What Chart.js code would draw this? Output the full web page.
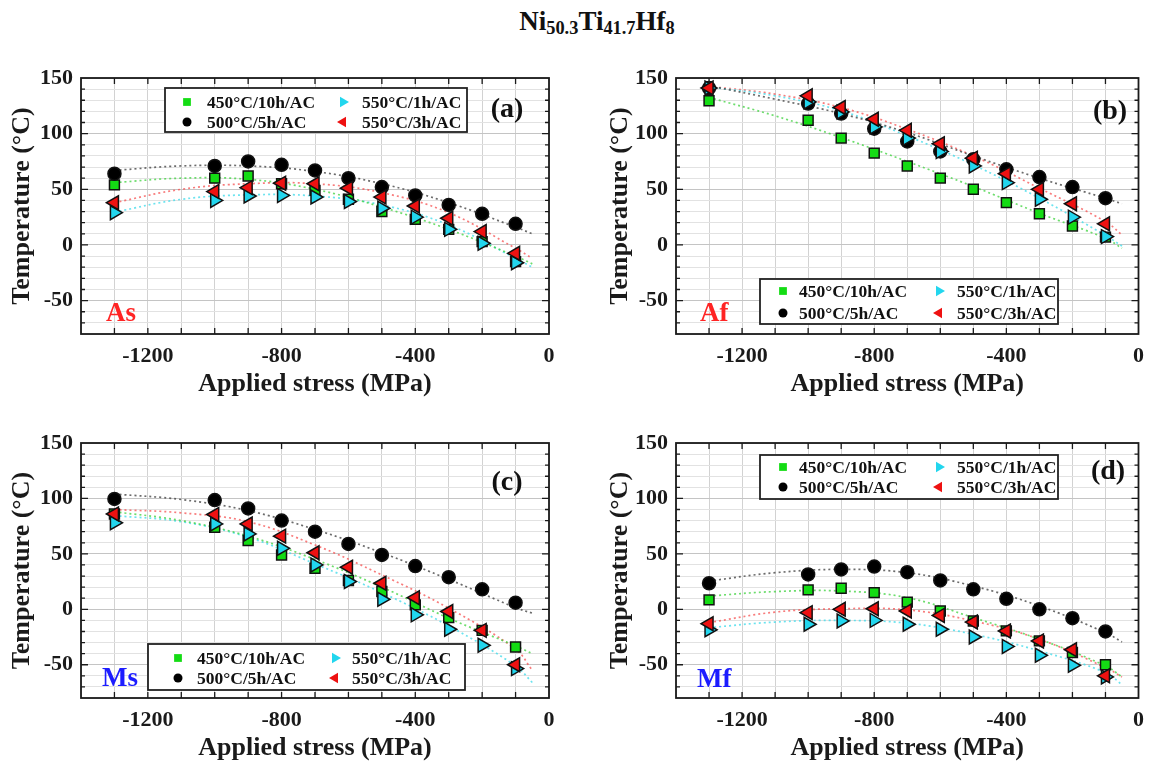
<!DOCTYPE html>
<html>
<head>
<meta charset="utf-8">
<script src="https://cdn.jsdelivr.net/npm/chart.js@4.4.0/dist/chart.umd.min.js"></script>
<style>
  body { margin: 0; background: #fff; }
  #wrap { position: relative; width: 1153px; height: 766px; overflow: hidden; }
  canvas { position: absolute; }
  #title {
    position: absolute; left: 597px; top: 6px; transform: translateX(-50%);
    font: bold 27px "Liberation Serif", serif; color: #111; white-space: nowrap;
  }
  #title sub { font-size: 0.68em; vertical-align: -0.22em; line-height: 0; }
</style>
</head>
<body>
<div id="wrap">
  <div id="title">Ni<sub>50.3</sub>Ti<sub>41.7</sub>Hf<sub>8</sub></div>
  <canvas id="pa" width="576" height="360" style="left:0;top:50px"></canvas>
  <canvas id="pb" width="557" height="360" style="left:596px;top:50px"></canvas>
  <canvas id="pc" width="576" height="350" style="left:0;top:416px"></canvas>
  <canvas id="pd" width="557" height="350" style="left:596px;top:416px"></canvas>
</div>
<script>
// applied stress (MPa) of the measured points and of the read-off fit curves
const stress = [-1300, -1000, -900, -800, -700, -600, -500, -400, -300, -200, -100];
const fitStress = [-1300, -1100, -900, -700, -500, -300, -100, -50];

const seriesNames = ['450°C/10h/AC', '500°C/5h/AC', '550°C/1h/AC', '550°C/3h/AC'];

// As
const as450 = [54, 60, 62, 55, 49, 41, 30, 23, 14, 3, -15];
const as500 = [64, 71, 75, 72, 67, 60, 52, 44.5, 36, 28, 19];
const as550h1 = [29, 40, 44, 44.5, 43, 39, 33, 25, 14, 1.5, -16];
const as550h3 = [38, 48, 51.5, 55.5, 55, 51, 43, 35, 24, 12, -7.5];
const asFit450 = [56, 60, 59, 50, 34, 14, -10, -17];
const asFit500 = [67, 71, 71, 66, 55, 38, 16, 10];
const asFit550h1 = [29.5, 41, 45, 44, 36, 18, -12, -20];
const asFit550h3 = [38, 50, 55, 55, 47, 29, -3, -12];

// Af
const af450 = [129.5, 112, 96, 82.5, 71, 60, 50, 38, 28, 17, 7];
const af500 = [141, 127, 118, 104.5, 93, 84, 77, 68, 61, 52, 42];
const af550h1 = [141, 128.5, 119.5, 106, 96, 84, 71, 56, 41, 25, 7.5];
const af550h3 = [141, 134, 123.5, 113, 103, 91, 78, 64, 50, 37, 19];
const afFit450 = [132.5, 116, 96.5, 75, 52.5, 28.5, 6, -3];
const afFit500 = [143, 131, 118, 101, 80, 60, 42, 37];
const afFit550h1 = [142, 134, 120.5, 98, 72, 42, 8.5, -1];
const afFit550h3 = [142.5, 135.5, 123.5, 104, 80, 51, 21, 9];

// Ms
const ms450 = [86, 74, 62, 49, 37, 26, 16, 4, -7.5, -19, -34];
const ms500 = [99.5, 98.5, 91, 80, 70, 59, 49, 39, 29, 18, 6];
const ms550h1 = [78, 77, 68, 55, 40, 25, 9, -5, -18, -32.5, -53.5];
const ms550h3 = [86, 85.5, 77, 66, 51, 38, 23.5, 10.5, -2, -19, -50];
const msFit450 = [88, 80, 66, 45, 20, -8, -33, -40];
const msFit500 = [104, 99, 89, 72, 51, 27, 1.5, -3.5];
const msFit550h1 = [84.5, 79, 65, 41, 15, -15, -51, -66];
const msFit550h3 = [90, 87, 79, 58, 31, 1, -36, -55];

// Mf
const mf450 = [8.5, 17.5, 19, 15, 6.5, -1.5, -10.5, -19.5, -28.5, -39, -50];
const mf500 = [23.5, 31.5, 36, 38.5, 33.5, 26, 18, 9.5, 0, -8, -20];
const mf550h1 = [-18.5, -13.5, -10.5, -10, -13.5, -18, -25, -33.5, -41.5, -50.5, -61];
const mf550h3 = [-13, -3, 0, 0.5, -1.5, -5.5, -11.5, -19.5, -28.5, -36.5, -60];
const mfFit450 = [12, 16, 16.5, 10.5, -7.5, -27, -51, -61];
const mfFit500 = [25.5, 33, 36, 33, 21, 3, -21, -29.5];
const mfFit550h1 = [-16.5, -11.5, -10, -12.5, -22.5, -37.5, -57, -68];
const mfFit550h3 = [-12, -2.5, 0.5, -0.5, -10.5, -27, -52.5, -61];

const serif = '"Liberation Serif", "Times New Roman", serif';

// marker look per series: 450, 500, 550/1h, 550/3h
const marks = [
  { style: 'rect', rot: 0, r: 7, fill: '#14dc14', line: 'rgba(60,210,60,0.75)', order: 4 },
  { style: 'circle', rot: 0, r: 6.5, fill: '#000000', line: 'rgba(70,70,70,0.8)', order: 3 },
  { style: 'triangle', rot: 90, r: 8, fill: '#22d6ee', line: 'rgba(70,220,235,0.8)', order: 2 },
  { style: 'triangle', rot: -90, r: 8, fill: '#ee1111', line: 'rgba(245,80,80,0.75)', order: 1 },
];

const pairs = (xs, ys) => xs.map((x, i) => ({ x: x, y: ys[i] }));

function drawMark(ctx, m, x, y, r) {
  ctx.save();
  ctx.translate(x, y);
  ctx.rotate(m.rot * Math.PI / 180);
  ctx.beginPath();
  if (m.style === 'rect') {
    const s = r * Math.SQRT1_2;
    ctx.rect(-s, -s, 2 * s, 2 * s);
  } else if (m.style === 'circle') {
    ctx.arc(0, 0, r, 0, Math.PI * 2);
  } else {
    for (let k = 0; k < 3; k++) {
      const a = k * 2 * Math.PI / 3;
      ctx.lineTo(Math.sin(a) * r, -Math.cos(a) * r);
    }
    ctx.closePath();
  }
  ctx.fillStyle = m.fill;
  ctx.fill();
  ctx.restore();
}

// frame, inward ticks, legend box and panel labels
const decoPlugin = {
  id: 'deco',
  afterDraw(chart, args, o) {
    const { ctx, chartArea: a, scales } = chart;
    const xs = scales.x, ys = scales.y;
    ctx.save();
    ctx.strokeStyle = '#1a1a1a';
    ctx.lineWidth = 1.3;
    for (let v = -1300; v < 0; v += 100) {
      const px = xs.getPixelForValue(v);
      ctx.beginPath();
      ctx.moveTo(px, a.bottom); ctx.lineTo(px, a.bottom - 6);
      ctx.moveTo(px, a.top); ctx.lineTo(px, a.top + 6);
      ctx.stroke();
    }
    for (let v = -70; v < 150; v += 10) {
      const py = ys.getPixelForValue(v);
      const len = v % 50 === 0 ? 7 : 4;
      ctx.beginPath();
      ctx.moveTo(a.left, py); ctx.lineTo(a.left + len, py);
      ctx.moveTo(a.right, py); ctx.lineTo(a.right - len, py);
      ctx.stroke();
    }
    ctx.lineWidth = 1.8;
    ctx.strokeRect(a.left, a.top, a.right - a.left, a.bottom - a.top);

    // legend
    const L = o.legend;
    const bx = a.left + L.x, by = a.top + L.y;
    ctx.fillStyle = '#fff';
    ctx.fillRect(bx, by, L.w, L.h);
    ctx.lineWidth = 1.8;
    ctx.strokeStyle = '#222';
    ctx.strokeRect(bx, by, L.w, L.h);
    ctx.font = 'bold 17.5px ' + serif;
    ctx.textBaseline = 'middle';
    ctx.textAlign = 'left';
    const cells = [[0, 0], [1, 0], [0, 1], [1, 1]]; // [row, col] for each series
    cells.forEach((c, i) => {
      const mx = bx + (c[1] ? L.m2 : L.m1);
      const tx = bx + (c[1] ? L.t2 : L.t1);
      const yy = by + (c[0] ? L.r2 : L.r1);
      drawMark(ctx, marks[i], mx, yy, marks[i].style === 'rect' ? 5.5 : marks[i].style === 'circle' ? 4.5 : 6);
      ctx.fillStyle = '#111';
      ctx.fillText(seriesNames[i], tx, yy + 1);
    });

    // panel letter and transformation tag
    ctx.font = 'bold 28px ' + serif;
    ctx.textAlign = 'center';
    ctx.fillStyle = '#111';
    ctx.fillText(o.letter, a.left + o.letterX, a.top + o.letterY);
    ctx.font = 'bold 27px ' + serif;
    ctx.textAlign = 'left';
    ctx.textBaseline = 'alphabetic';
    ctx.fillStyle = o.tagColor;
    ctx.fillText(o.tag, a.left + o.tagX, a.top + o.tagY);
    ctx.restore();
  }
};

const panels = [
  { id: 'pa', area: { left: 81, right: 549, top: 28, bottom: 284 }, yPad: 7, xPad: 10,
    series: [as450, as500, as550h1, as550h3], fits: [asFit450, asFit500, asFit550h1, asFit550h3],
    letter: '(a)', letterX: 426, letterY: 32, tag: 'As', tagColor: '#ff2424', tagX: 25, tagY: 243,
    legend: { x: 84, y: 10, w: 302, h: 44, m1: 22, t1: 42, m2: 178, t2: 197, r1: 14, r2: 34 } },
  { id: 'pb', area: { left: 80, right: 548, top: 28, bottom: 284 }, yPad: 9, xPad: 10,
    series: [af450, af500, af550h1, af550h3], fits: [afFit450, afFit500, afFit550h1, afFit550h3],
    letter: '(b)', letterX: 434, letterY: 34, tag: 'Af', tagColor: '#ff2424', tagX: 24, tagY: 243,
    legend: { x: 84, y: 201, w: 298, h: 45, m1: 23, t1: 39, m2: 179, t2: 197, r1: 12, r2: 34 } },
  { id: 'pc', area: { left: 81, right: 549, top: 27, bottom: 282 }, yPad: 7, xPad: 2,
    series: [ms450, ms500, ms550h1, ms550h3], fits: [msFit450, msFit500, msFit550h1, msFit550h3],
    letter: '(c)', letterX: 426, letterY: 40, tag: 'Ms', tagColor: '#1c1cff', tagX: 21, tagY: 243,
    legend: { x: 67, y: 201, w: 317, h: 46, m1: 30, t1: 49, m2: 187, t2: 204, r1: 14, r2: 34 } },
  { id: 'pd', area: { left: 80, right: 548, top: 27, bottom: 282 }, yPad: 9, xPad: 2,
    series: [mf450, mf500, mf550h1, mf550h3], fits: [mfFit450, mfFit500, mfFit550h1, mfFit550h3],
    letter: '(d)', letterX: 432, letterY: 29, tag: 'Mf', tagColor: '#1c1cff', tagX: 21, tagY: 244,
    legend: { x: 84, y: 12, w: 298, h: 44, m1: 23, t1: 39, m2: 179, t2: 197, r1: 12, r2: 32 } },
];

Chart.defaults.font.family = serif;
Chart.defaults.color = '#1a1a1a';

panels.forEach((p) => {
  const canvas = document.getElementById(p.id);
  const W = canvas.width, H = canvas.height;
  const datasets = [];
  p.series.forEach((s, i) => {
    const m = marks[i];
    datasets.push({
      label: seriesNames[i],
      data: pairs(stress, s),
      pointStyle: m.style,
      rotation: m.rot,
      pointRadius: m.r,
      pointHoverRadius: m.r,
      backgroundColor: m.fill,
      borderColor: '#111',
      borderWidth: 1.5,
      order: m.order,
    });
  });
  p.fits.forEach((f, i) => {
    datasets.push({
      type: 'line',
      label: seriesNames[i] + ' fit',
      data: pairs(fitStress, f),
      borderColor: marks[i].line,
      borderWidth: 1.7,
      borderDash: [2, 3],
      pointRadius: 0,
      tension: 0.4,
      fill: false,
      order: 10 + i,
    });
  });

  new Chart(canvas, {
    type: 'scatter',
    data: { datasets },
    options: {
      responsive: false,
      animation: false,
      events: [],
      layout: { padding: { left: 0, top: p.area.top, right: W - p.area.right, bottom: 0 } },
      plugins: {
        legend: { display: false },
        tooltip: { enabled: false },
        deco: p,
      },
      scales: {
        x: {
          type: 'linear', min: -1400, max: 0,
          afterFit(scale) { scale.height = H - p.area.bottom; },
          border: { display: false },
          grid: { color: '#d2d2d2', lineWidth: 1, drawTicks: false },
          ticks: {
            stepSize: 100, autoSkip: false, maxRotation: 0, padding: 9,
            font: { size: 22, weight: 'bold' },
            callback: (v) => (v % 400 === 0 ? String(v) : ''),
          },
          title: {
            display: true, text: 'Applied stress (MPa)',
            font: { size: 26, weight: 'bold' },
            padding: { top: 0, bottom: p.xPad },
          },
        },
        y: {
          min: -80, max: 150,
          afterFit(scale) { scale.width = p.area.left; },
          border: { display: false },
          grid: {
            drawTicks: false,
            color: (c) => (c.tick && c.tick.value % 50 === 0 ? '#c4c4c4' : '#e2e2e2'),
          },
          ticks: {
            stepSize: 10, autoSkip: false, padding: 8,
            font: { size: 22, weight: 'bold' },
            callback: (v) => (v % 50 === 0 ? String(v) : ''),
          },
          title: {
            display: true, text: 'Temperature (°C)',
            font: { size: 26, weight: 'bold' },
            padding: { top: p.yPad, bottom: 0 },
          },
        },
      },
    },
    plugins: [decoPlugin],
  });
});
</script>
</body>
</html>
